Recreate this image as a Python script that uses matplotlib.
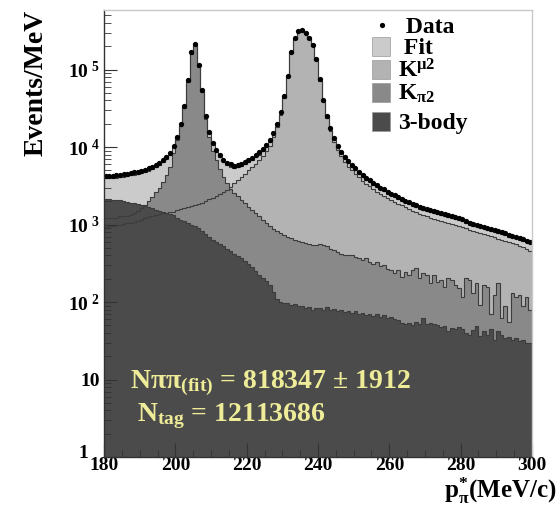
import numpy as np
import matplotlib
matplotlib.use('Agg')
import matplotlib.pyplot as plt
import matplotlib.transforms as mtransforms
from matplotlib.patches import Rectangle
from matplotlib.lines import Line2D
from matplotlib.ticker import FixedLocator, LogLocator, NullFormatter, MultipleLocator

plt.rcParams['font.family'] = ['Liberation Serif', 'DejaVu Serif']
plt.rcParams['font.weight'] = 'bold'
plt.rcParams['mathtext.fontset'] = 'custom'
plt.rcParams['mathtext.rm'] = 'Liberation Serif:bold'
plt.rcParams['mathtext.it'] = 'Liberation Serif:bold:italic'
plt.rcParams['mathtext.bf'] = 'Liberation Serif:bold'
plt.rcParams['mathtext.default'] = 'rm'

# 1 MeV bins from 180 to 300 MeV/c
bin_lo = 180
bin_hi = 300

data = [4225, 4260, 4260, 4300, 4340, 4430, 4510, 4600, 4690, 4790,
        4930, 5080, 5290, 5530, 5810, 6230, 6820, 7520, 8480, 10400,
        13600, 19600, 33800, 73000, 166000, 215000, 113000, 55000, 25000, 15800,
        11400, 9150, 7900, 6800, 6300, 5980, 5750, 5790, 6030, 6400,
        6800, 7200, 7800, 8500, 9500, 10700, 12200, 15000, 19600, 28000,
        45500, 82500, 168000, 257000, 316000, 320000, 293000, 252000, 207000, 136000,
        75000, 40400, 25400, 17400, 12900, 10300, 8730, 7500, 6550, 5850,
        5290, 4790, 4340, 4000, 3700, 3450, 3220, 3000, 2830, 2640,
        2510, 2380, 2260, 2150, 2040, 1940, 1840, 1770, 1700, 1630,
        1570, 1530, 1490, 1440, 1400, 1360, 1320, 1290, 1250, 1210,
        1170, 1120, 1060, 1020, 1000, 970, 940, 905, 880, 850,
        820, 795, 770, 740, 720, 700, 670, 645, 620, 600]

fit = [3950, 3980, 3990, 4020, 4060, 4140, 4220, 4300, 4390, 4480,
       4610, 4750, 4950, 5180, 5450, 5850, 6400, 7100, 8000, 9900,
       13000, 18900, 32800, 71000, 162000, 210000, 110000, 53000, 24000, 15000,
       10800, 8600, 7400, 6400, 5900, 5600, 5400, 5450, 5650, 6000,
       6400, 6800, 7350, 8000, 9000, 10100, 11500, 14300, 18800, 27000,
       44000, 80000, 163000, 250000, 308000, 312000, 286000, 246000, 202000, 132000,
       72500, 39000, 24300, 16600, 12300, 9800, 8300, 7100, 6200, 5550,
       5000, 4530, 4100, 3780, 3500, 3260, 3040, 2840, 2680, 2500,
       2370, 2250, 2140, 2030, 1930, 1830, 1740, 1670, 1600, 1540,
       1480, 1440, 1400, 1360, 1320, 1280, 1240, 1210, 1180, 1140,
       1100, 1060, 1000, 965, 945, 915, 890, 855, 830, 805,
       775, 750, 730, 700, 680, 660, 635, 610, 590, 570]

kmu2 = [940, 950, 960, 975, 990, 1010, 1040, 1060, 1090, 1120,
        1160, 1200, 1240, 1290, 1330, 1360, 1390, 1410, 1430, 1470,
        1520, 1570, 1620, 1670, 1720, 1780, 1840, 1920, 2020, 2120,
        2220, 2330, 2450, 2600, 2800, 3050, 3400, 3750, 4050, 4500,
        5000, 5500, 6100, 6800, 7600, 8800, 10400, 13300, 17900, 26100,
        43200, 79000, 162000, 249000, 307000, 311000, 285000, 245000, 201000, 131000,
        71500, 38000, 23500, 16000, 11700, 9200, 7700, 6500, 5600, 5070,
        4540, 4090, 3680, 3350, 3100, 2880, 2660, 2480, 2310, 2170,
        2050, 1950, 1830, 1760, 1670, 1590, 1510, 1440, 1380, 1320,
        1270, 1230, 1190, 1160, 1120, 1090, 1050, 1020, 1000, 970,
        940, 900, 860, 825, 800, 780, 755, 730, 705, 680,
        655, 635, 615, 590, 570, 555, 535, 515, 490, 460]

kpi2 = [1200, 1210, 1220, 1230, 1270, 1290, 1300, 1330, 1420, 1500,
        1640, 1780, 2000, 2250, 2600, 3000, 3500, 4400, 5600, 8400,
        12300, 18500, 32000, 70000, 160000, 208000, 108000, 52000, 23000, 13500,
        9000, 6800, 5200, 4100, 3400, 2850, 2550, 2300, 2100, 1900,
        1700, 1550, 1400, 1270, 1150, 1050, 960, 880, 820, 770,
        730, 690, 660, 640, 620, 600, 580, 560, 540, 550,
        560, 545, 530, 490, 470, 440, 420, 410, 400, 405,
        380, 370, 350, 365, 330, 310, 330, 290, 300, 270,
        260, 240, 255, 212, 246, 223, 258, 272, 202, 234,
        223, 174, 223, 182, 190, 158, 202, 190, 166, 150,
        117, 202, 190, 130, 174, 91, 166, 158, 71, 123,
        174, 62, 88, 56, 130, 117, 123, 88, 117, 79]

three_body = [2110, 2110, 2100, 2090, 2050, 1990, 1950, 1920, 1890, 1850,
              1790, 1730, 1680, 1620, 1560, 1510, 1450, 1410, 1370, 1310,
              1210, 1160, 1110, 1050, 990, 950, 900, 830, 760, 690,
              640, 600, 565, 525, 490, 455, 420, 390, 365, 335,
              310, 280, 250, 225, 205, 185, 165, 135, 110, 100,
              96, 98, 92, 94, 88, 90, 84, 86, 80, 84,
              84, 80, 86, 78, 82, 76, 80, 74, 77, 72,
              76, 70, 73, 68, 71, 66, 70, 64, 67, 62,
              65, 60, 58, 54, 52, 54, 50, 55, 52, 62,
              52, 54, 52, 50, 47, 49, 42, 46, 45, 48,
              45, 40, 37, 43, 49, 36, 42, 38, 45, 32,
              42, 37, 34, 35, 32, 34, 31, 32, 30, 30]

edges = np.arange(bin_lo, bin_hi + 1, 1)
centers = 0.5 * (edges[:-1] + edges[1:])

c_fit = '#cbcbcb'
c_kmu2 = '#b3b3b3'
c_kpi2 = '#898989'
c_3b = '#4b4b4b'
c_line = '#3c3c3c'

W, H = 559, 509
fig = plt.figure(figsize=(W / 100, H / 100), dpi=100)
ax = fig.add_axes([104 / W, 1 - 457 / H, (532 - 104) / W, (457 - 10) / H])

base = 0.5
for vals, col in [(fit, c_fit), (kmu2, c_kmu2), (kpi2, c_kpi2), (three_body, c_3b)]:
	ax.stairs(vals, edges, fill=True, color=col, baseline=base, lw=0)
for vals in [fit, kmu2, kpi2, three_body]:
	ax.stairs(vals, edges, baseline=None, color=c_line, lw=0.8)

ax.plot(centers, data, 'o', color='black', ms=3.8, mew=0)

ax.set_yscale('log')
ax.set_xlim(bin_lo, bin_hi)
ax.set_ylim(1, 5.86e5)

ax.yaxis.set_major_locator(FixedLocator([1, 10, 1e2, 1e3, 1e4, 1e5]))
ax.set_yticklabels(['1', '10', r'$10^{\ 2}$', r'$10^{\ 3}$', r'$10^{\ 4}$', r'$10^{\ 5}$'])
ax.yaxis.set_minor_locator(LogLocator(base=10, subs=np.arange(2, 10), numticks=20))
ax.yaxis.set_minor_formatter(NullFormatter())
ax.xaxis.set_major_locator(MultipleLocator(20))
ax.xaxis.set_minor_locator(MultipleLocator(5))

ax.tick_params(axis='both', which='both', direction='in', colors='#333333', labelcolor='black')
ax.tick_params(axis='y', which='major', length=9, width=0.8, labelsize=14, pad=3)
ax.tick_params(axis='y', which='minor', length=5, width=0.6)
ax.tick_params(axis='x', which='major', length=10, width=0.8, labelsize=14, pad=0)
ax.tick_params(axis='x', which='minor', length=5, width=0.6)
ax.tick_params(top=False, right=False)

# the "1" label sits a bit up and left of its tick, as in ROOT
one_lbl = ax.yaxis.get_major_ticks()[0].label1
one_lbl.set_transform(one_lbl.get_transform() +
	mtransforms.ScaledTranslation(-12 / 100, 6 / 100, fig.dpi_scale_trans))

ax.spines['left'].set_color('#333333')
ax.spines['bottom'].set_color('#333333')
ax.spines['top'].set_color('#c8c8c8')
ax.spines['right'].set_color('#c8c8c8')
for s in ax.spines.values():
	s.set_linewidth(1.0)

# axis titles
fig.text(36 / W, 1 - 10 / H, 'Events/MeV', rotation=90, ha='center', va='top',
	fontsize=20, fontweight='bold')
fig.text(557 / W, 1 - 498 / H, r'$\mathrm{p}^{*}_{\mathrm{π}}$(MeV/c)', ha='right', va='baseline',
	fontsize=18, fontweight='bold')

# legend, drawn by hand to keep the ROOT look
def fx(px):
	return px / W

def fy(py):
	return 1 - py / H

fig.lines.append(Line2D([fx(382)], [fy(25)], marker='o', color='black', ms=3.8,
	mew=0, transform=fig.transFigure))
fig.text(fx(400), fy(33), ' Data', fontsize=17, fontweight='bold', va='baseline')
boxes = [(c_fit, 37, ' Fit'), (c_kmu2, 60, r'K$^{\mathrm{μ2}}$'),
	(c_kpi2, 83, r'K$_{\mathrm{π2}}$'), (c_3b, 112, '3-body')]
for col, top, label in boxes:
	fig.patches.append(Rectangle((fx(372), fy(top + 19)), 18 / W, 19 / H,
		facecolor=col, edgecolor='#999999', lw=0.5, transform=fig.transFigure))
	fig.text(fx(398), fy(top + 17), label, fontsize=17, fontweight='bold', va='baseline')

# fit result
yellow = '#eeec98'
ax.text(fx(130), fy(388), r'$\mathrm{Nππ}_{\mathrm{(fit)}}$ = 818347 ± 1912',
	transform=fig.transFigure, color=yellow, fontsize=20, fontweight='bold', va='baseline')
ax.text(fx(137), fy(421), r'$\mathrm{N}_{\mathrm{tag}}$ = 12113686',
	transform=fig.transFigure, color=yellow, fontsize=20, fontweight='bold', va='baseline')

fig.savefig('out.png', dpi=100)
